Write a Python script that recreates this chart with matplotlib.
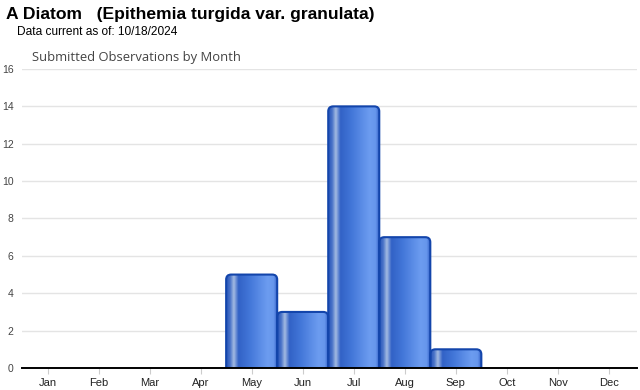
import numpy as np
import matplotlib
matplotlib.use("Agg")
import matplotlib.pyplot as plt
from matplotlib.patches import FancyBboxPatch
from matplotlib.colors import LinearSegmentedColormap
from matplotlib.transforms import IdentityTransform

months = ["Jan", "Feb", "Mar", "Apr", "May", "Jun", "Jul", "Aug", "Sep", "Oct", "Nov", "Dec"]
counts = [0, 0, 0, 0, 5, 3, 14, 7, 1, 0, 0, 0]
yticks = [0, 2, 4, 6, 8, 10, 12, 14, 16]

plt.rcParams['font.family'] = ['Liberation Sans', 'DejaVu Sans']

fig = plt.figure(figsize=(6.4, 3.9), dpi=100)
ax = fig.add_axes([22/640, 22/390, 615/640, 299/390])
ax.set_xlim(-0.5, 11.55)
ax.set_ylim(0, 16)

for s in ["top", "right", "left"]:
    ax.spines[s].set_visible(False)
ax.spines["bottom"].set_color("black")
ax.spines["bottom"].set_linewidth(1.4)
ax.spines["bottom"].set_zorder(5)

ax.set_yticks(yticks)
ax.set_yticklabels([str(v) for v in yticks], fontsize=7.5, color="#444444")
ax.tick_params(axis="y", length=0, pad=6)
ax.set_xticks(range(12))
ax.set_xticklabels(months, fontsize=8, color="#222222")
ax.tick_params(axis="x", length=4, color="#cccccc", width=0.8, pad=3)
ax.grid(axis="y", color="#e4e4e4", linewidth=1)
ax.set_axisbelow(True)

cmap = LinearSegmentedColormap.from_list("bar", [
    (0.00, "#2452b8"),
    (0.08, "#4a74c8"),
    (0.15, "#a4bbe2"),
    (0.24, "#3262c6"),
    (0.45, "#4276d8"),
    (0.80, "#6c9cf0"),
    (0.92, "#6696ec"),
    (1.00, "#2a58c0"),
])
grad = np.linspace(0, 1, 256).reshape(1, -1)

fig.canvas.draw()
for i, c in enumerate(counts):
    if c <= 0:
        continue
    (x0, y0) = ax.transData.transform((i - 0.5, -0.5))
    (x1, y1) = ax.transData.transform((i + 0.5, c))
    patch = FancyBboxPatch((x0, y0), x1 - x0, y1 - y0,
                           boxstyle="round,pad=0,rounding_size=5",
                           transform=IdentityTransform(),
                           facecolor="none", edgecolor="#1345ab", linewidth=1.5,
                           zorder=3)
    ax.add_patch(patch)
    patch.set_clip_box(ax.bbox)
    im = ax.imshow(grad, cmap=cmap, aspect="auto",
                   extent=(i - 0.5, i + 0.5, -0.5, c), zorder=2,
                   interpolation="bilinear")
    im.set_clip_path(patch)

ax.set_xlim(-0.5, 11.55)
ax.set_ylim(0, 16)

fig.text(6/640, 1 - 15/390, "A Diatom   (Epithemia turgida var. granulata)",
         fontsize=12.6, fontweight="bold", va="center", ha="left", color="black")
fig.text(17/640, 1 - 32/390, "Data current as of: 10/18/2024",
         fontsize=8.6, va="center", ha="left", color="black")
fig.text(32/640, 1 - 58/390, "Submitted Observations by Month",
         fontsize=9.4, va="center", ha="left", color="#444444",
         family=["Open Sans", "DejaVu Sans"])

fig.savefig("out.png", dpi=100)
